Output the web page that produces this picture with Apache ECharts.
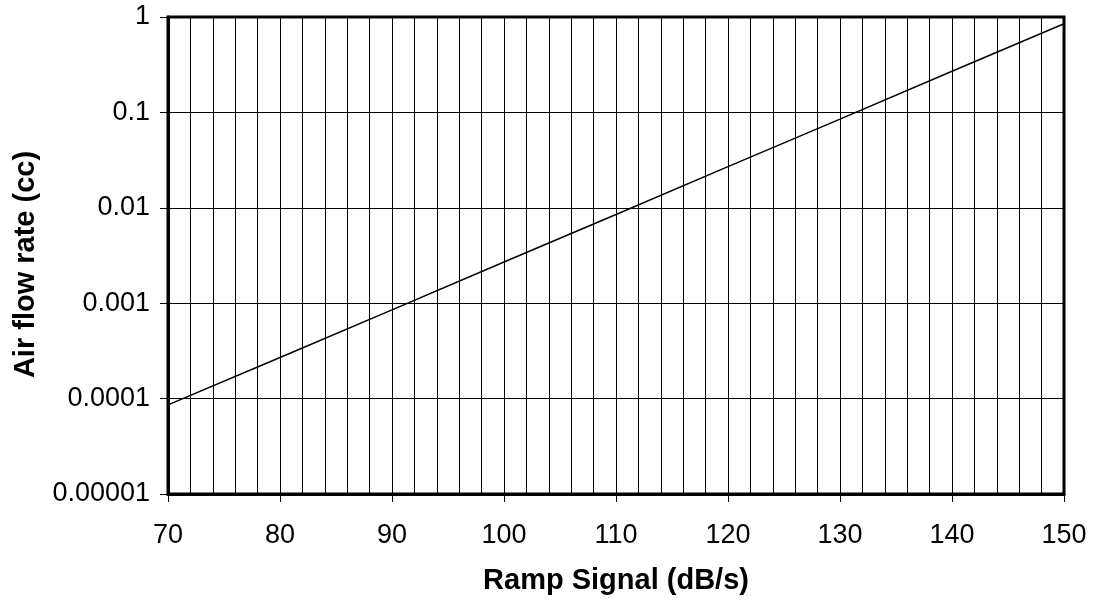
<!DOCTYPE html>
<html>
<head>
<meta charset="utf-8">
<script src="https://cdn.jsdelivr.net/npm/echarts@6/dist/echarts.min.js"></script>
<style>
html,body{margin:0;padding:0;background:#fff;}
#chart{width:1095px;height:604px;}
</style>
</head>
<body>
<div id="chart"></div>
<script>
// Data
var rampSignal = [70, 80, 90, 100, 110, 120, 130, 140, 150];
var airFlow = [0.000086, 0.00027, 0.00085, 0.0027, 0.0085, 0.027, 0.085, 0.27, 0.85];
var yTickLabels = ['0.00001', '0.0001', '0.001', '0.01', '0.1', '1'];
var xTitle = 'Ramp Signal (dB/s)';
var yTitle = 'Air flow rate (cc)';

var seriesData = rampSignal.map(function (x, i) { return [x, airFlow[i]]; });

var chart = echarts.init(document.getElementById('chart'), null, {renderer: 'canvas'});
var font = 'Liberation Sans, Arial, sans-serif';
chart.setOption({
  animation: false,
  backgroundColor: '#fff',
  grid: {
    left: 168, right: 31, top: 17, bottom: 110,
    show: true, borderColor: '#000', borderWidth: 3, backgroundColor: 'transparent'
  },
  xAxis: {
    type: 'value', min: 70, max: 150, interval: 10,
    name: xTitle, nameLocation: 'middle', nameGap: 72,
    nameTextStyle: {fontFamily: font, fontSize: 29, fontWeight: 'bold', color: '#000'},
    axisLine: {show: true, lineStyle: {color: '#000', width: 3}},
    axisTick: {show: true, length: 8, lineStyle: {color: '#000', width: 1}},
    axisLabel: {fontFamily: font, fontSize: 27, color: '#000', margin: 28},
    splitLine: {show: true, lineStyle: {color: '#000', width: 1}},
    minorTick: {show: false, splitNumber: 5},
    minorSplitLine: {show: true, lineStyle: {color: '#000', width: 1}}
  },
  yAxis: {
    type: 'log', logBase: 10, min: 0.00001, max: 1,
    name: yTitle, nameLocation: 'middle', nameGap: 128,
    nameTextStyle: {fontFamily: font, fontSize: 29, fontWeight: 'bold', color: '#000', padding: [0, 18, 0, 0]},
    axisLine: {show: true, lineStyle: {color: '#000', width: 3}},
    axisTick: {show: true, length: 8, lineStyle: {color: '#000', width: 1}},
    axisLabel: {
      fontFamily: font, fontSize: 27, color: '#000', margin: 18,
      formatter: function (v) {
        var idx = Math.round(Math.log10(v)) + 5;
        return yTickLabels[idx] !== undefined ? yTickLabels[idx] : '';
      }
    },
    splitLine: {show: true, lineStyle: {color: '#000', width: 1}}
  },
  series: [{
    type: 'line',
    data: seriesData,
    showSymbol: false,
    symbol: 'none',
    lineStyle: {color: '#000', width: 1.5},
    z: 5
  }]
});
</script>
</body>
</html>
